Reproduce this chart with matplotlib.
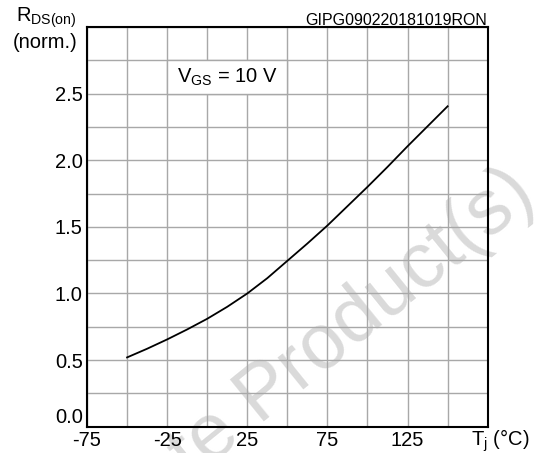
import matplotlib.pyplot as plt
from matplotlib.patches import Rectangle

plt.rcParams['font.family'] = ['Liberation Sans', 'DejaVu Sans']

# values
temp = [-50, -37.5, -25, -12.5, 0, 12.5, 25, 37.5, 50, 62.5, 75, 87.5, 100, 112.5, 125, 137.5, 150]
rds_norm = [0.52, 0.585, 0.655, 0.73, 0.81, 0.9, 1.0, 1.115, 1.245, 1.375, 1.51, 1.655, 1.80, 1.95, 2.105, 2.255, 2.405]

xticks = [-75, -25, 25, 75, 125]
yticks = [0.0, 0.5, 1.0, 1.5, 2.0, 2.5]

fig = plt.figure(figsize=(5.39, 4.53), dpi=100)
fig.patch.set_facecolor('white')
ax = fig.add_axes([87 / 539, 26.3 / 453, 400.7 / 539, 399.7 / 453])

# watermark, behind the axes
fig.text(0.932, 0.657, 'Obsolete Product(s)', fontsize=56, color='#dadada',
         rotation=39, ha='right', va='top', rotation_mode='anchor', zorder=-1)
ax.patch.set_alpha(0)

ax.set_xlim(-75, 175)
ax.set_ylim(0, 3.0)
ax.set_xticks([-75 + 25 * i for i in range(11)])
ax.set_yticks([0.25 * i for i in range(13)])
ax.grid(True, color='#a8a8a8', linewidth=1.0, zorder=1)
ax.set_axisbelow(True)
ax.tick_params(length=0, pad=3, labelsize=14.5)
ax.set_xticklabels([str(v) if v in xticks else '' for v in ax.get_xticks()])
ax.set_yticklabels(['%.1f' % v if any(abs(v - t) < 1e-6 for t in yticks) else '' for v in ax.get_yticks()])
ax.yaxis.get_major_ticks()[0].label1.set_va('bottom')
for s in ax.spines.values():
    s.set_linewidth(1.5)
    s.set_color('black')

ax.plot(temp, rds_norm, color='black', linewidth=1.3, zorder=3)

ax.add_patch(Rectangle((-25, 2.5), 75, 0.25, facecolor='white', edgecolor='#a8a8a8', linewidth=1.0, zorder=2))
ax.text(12.5, 2.625, r'V$_{\mathregular{GS}}$ = 10 V', fontsize=14.5, ha='center', va='center', zorder=4)

fig.text(77 / 539, 1 - 22 / 453, r'R$_{\mathregular{DS(on)}}$', fontsize=14.5, ha='right', va='baseline')
fig.text(77 / 539, 1 - 48 / 453, '(norm.)', fontsize=14.5, ha='right', va='baseline')
fig.text(487 / 539, 1 - 25 / 453, 'GIPG090220181019RON', fontsize=11.5, ha='right', va='baseline')
fig.text(471 / 539, 1 - 446 / 453, r'T$_{\mathregular{j}}$ (°C)', fontsize=14.5, ha='left', va='baseline')

fig.savefig('out.png', dpi=100)
